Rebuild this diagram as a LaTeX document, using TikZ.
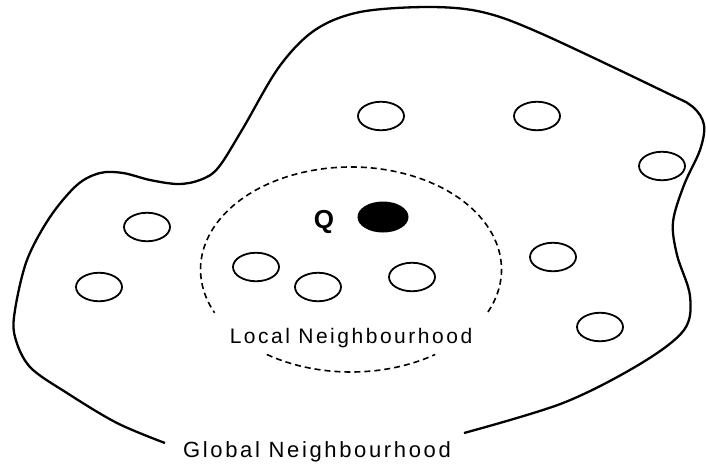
\documentclass[tikz,border=0pt]{standalone}
\usepackage{fontspec}
\setmainfont{Liberation Sans}
\usepackage{tikz}
\usetikzlibrary{shapes.geometric}

\begin{document}
\begin{tikzpicture}[x=1pt, y=-1pt,
  point/.style={draw, ellipse, line width=1.8pt, minimum width=46pt, minimum height=28.5pt, inner sep=0pt},
  query/.style={fill=black, ellipse, minimum width=51pt, minimum height=31pt, inner sep=0pt},
  label/.style={anchor=base, inner sep=0pt, font=\fontsize{21}{25}\selectfont\addfontfeature{LetterSpace=12}}]
\useasboundingbox (0,0) rectangle (706,464);

%global neighbourhood
\draw[line width=2.3pt, line join=round] plot[smooth, tension=0.55] coordinates {
  (464,433) (563,403) (640,364) (684,330) (690,296) (677,255) (673,222)
  (684,185) (700,150) (704,125) (693,107) (667,93) (540,33) (482,12)
  (428,7) (360,12) (315,30) (279,67) (242,130) (218,168) (200,180)
  (178,184) (150,180) (123,173) (100,173) (77,185) (50,217) (27,260)
  (15,310) (15,337) (30,367) (67,393) (117,423) (165,443)};
\path (317,457) node[label, font=\fontsize{22}{26}\selectfont\addfontfeature{LetterSpace=12}] (global) {Global Neighbourhood};

%local neighbourhood
\draw[line width=1.6pt, dash pattern=on 6pt off 4pt] (351,269.5) ++(24.5:150.5 and 102.5) arc[start angle=24.5, end angle=-205, x radius=150.5, y radius=102.5];
\draw[line width=1.6pt, dash pattern=on 6pt off 4pt] (351,269.5) ++(124:150.5 and 102.5) arc[start angle=124, end angle=56, x radius=150.5, y radius=102.5];
\path (351,343) node[label] (local) {Local Neighbourhood};

%query
\path (383,217) node[query] (q) {};
\path (324,228) node[anchor=base, inner sep=0pt, font=\fontsize{26}{30}\selectfont\bfseries] (qlabel) {Q};

%points
\path (381,116) node[point] (p1) {};
\path (537,116) node[point] (p2) {};
\path (662,166) node[point] (p3) {};
\path (147,227) node[point] (p4) {};
\path (99,287) node[point] (p5) {};
\path (256,267) node[point] (p6) {};
\path (318,287) node[point] (p7) {};
\path (412,277) node[point] (p8) {};
\path (553,257) node[point] (p9) {};
\path (600,327) node[point] (p10) {};
\end{tikzpicture}
\end{document}
